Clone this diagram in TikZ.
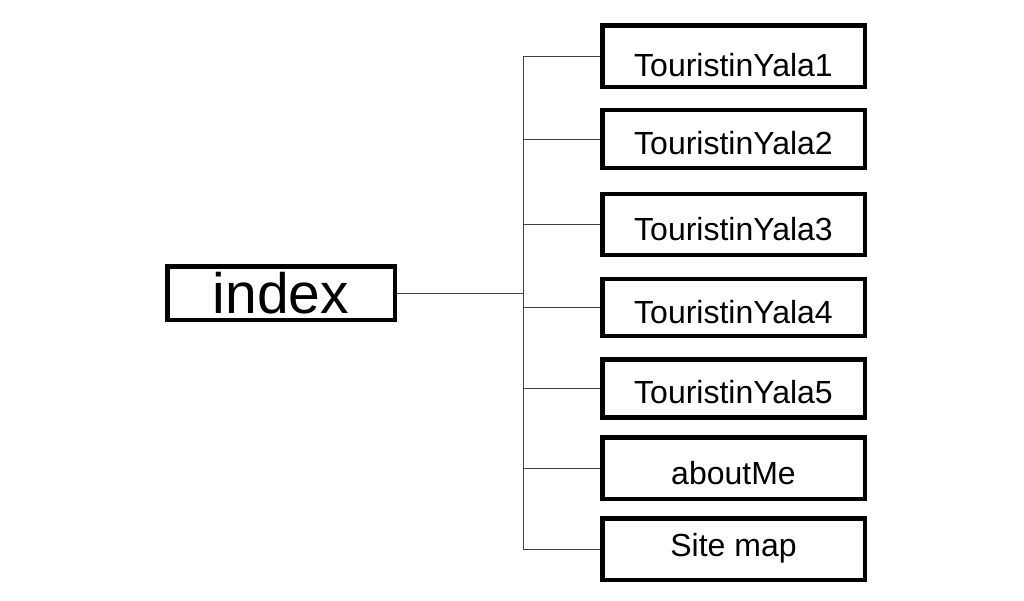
\documentclass[tikz,border=0pt]{standalone}
\usepackage{fontspec}
\setmainfont{Liberation Sans}
\begin{document}
\begin{tikzpicture}[x=1pt,y=-1pt,
  page/.style={draw=black,line width=4.5pt,inner sep=0pt,minimum width=262.5pt,font=\fontsize{32}{38}\selectfont},
  root/.style={draw=black,line width=4.5pt,inner sep=0pt,minimum width=227.5pt,minimum height=53.5pt,font=\fontsize{57}{64}\selectfont},
  link/.style={draw=black!75,line width=1pt}]
\useasboundingbox (0,0) rectangle (1024,600);
\node[root] (index) at (281,293) {index};
\node[page,minimum height=61.5pt,text height=45.5pt,text depth=4.5pt] (b1) at (733.5,56) {TouristinYala1};
\node[page,minimum height=58pt,text height=40pt,text depth=10pt] (b2) at (733.5,139) {TouristinYala2};
\node[page,minimum height=61pt,text height=40.5pt,text depth=9.5pt] (b3) at (733.5,224.5) {TouristinYala3};
\node[page,minimum height=57pt,text height=41pt,text depth=9pt] (b4) at (733.5,307.5) {TouristinYala4};
\node[page,minimum height=58pt,text height=39.6pt,text depth=10.4pt] (b5) at (733.5,388.7) {TouristinYala5};
\node[page,minimum height=61.5pt,text height=41pt,text depth=9pt] (b6) at (733.5,468) {aboutMe};
\node[page,minimum height=61.5pt,text height=32pt,text depth=18pt] (b7) at (733.5,549) {Site map};
\coordinate (trunk) at (523,300);
\draw[link] (index.east) -- (index.east -| trunk);
\draw[link] (trunk |- b1.west) -- (trunk |- b7.west);
\foreach \b in {b1,b2,b3,b4,b5,b6,b7}
  \draw[link] (trunk |- \b.west) -- (\b.west);
\end{tikzpicture}
\end{document}
